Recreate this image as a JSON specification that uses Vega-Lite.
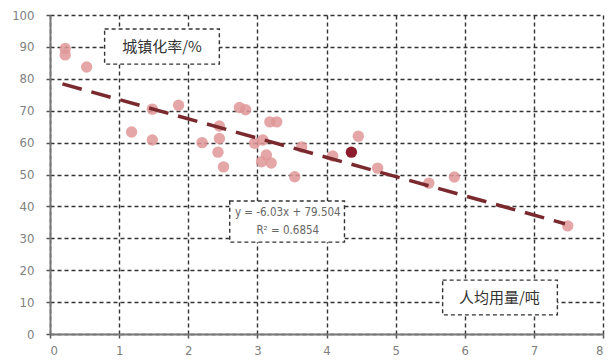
{
  "$schema": "https://vega.github.io/schema/vega-lite/v6.json",
  "width": 553,
  "height": 319,
  "autosize": {"type": "none"},
  "padding": {"left": 50, "top": 15, "right": 13, "bottom": 29},
  "background": "white",
  "config": {
    "view": {"stroke": null},
    "axis": {
      "labelFont": "DejaVu Sans Condensed, Liberation Sans",
      "labelFontSize": 13,
      "labelColor": "#808080",
      "grid": true,
      "gridColor": "#333333",
      "gridDash": [4, 3],
      "gridWidth": 1.4,
      "gridOpacity": 1,
      "domainColor": "#777777",
      "domainWidth": 2,
      "tickColor": "#555555",
      "tickSize": 4,
      "tickWidth": 1.5,
      "title": null
    }
  },
  "datasets": {
    "pts": [
      {"x": 0.22, "y": 89.5, "kind": "normal"},
      {"x": 0.22, "y": 87.5, "kind": "normal"},
      {"x": 0.53, "y": 83.7, "kind": "normal"},
      {"x": 1.18, "y": 63.3, "kind": "normal"},
      {"x": 1.48, "y": 70.5, "kind": "normal"},
      {"x": 1.48, "y": 60.8, "kind": "normal"},
      {"x": 1.86, "y": 71.7, "kind": "normal"},
      {"x": 2.2, "y": 60.0, "kind": "normal"},
      {"x": 2.45, "y": 65.2, "kind": "normal"},
      {"x": 2.45, "y": 61.3, "kind": "normal"},
      {"x": 2.43, "y": 57.0, "kind": "normal"},
      {"x": 2.51, "y": 52.4, "kind": "normal"},
      {"x": 2.74, "y": 71.0, "kind": "normal"},
      {"x": 2.83, "y": 70.3, "kind": "normal"},
      {"x": 2.96, "y": 59.8, "kind": "normal"},
      {"x": 3.08, "y": 60.8, "kind": "normal"},
      {"x": 3.06, "y": 54.0, "kind": "normal"},
      {"x": 3.13, "y": 56.1, "kind": "normal"},
      {"x": 3.2, "y": 53.6, "kind": "normal"},
      {"x": 3.18, "y": 66.5, "kind": "normal"},
      {"x": 3.28, "y": 66.5, "kind": "normal"},
      {"x": 3.54, "y": 49.3, "kind": "normal"},
      {"x": 3.64, "y": 58.6, "kind": "normal"},
      {"x": 4.09, "y": 55.8, "kind": "normal"},
      {"x": 4.46, "y": 62.0, "kind": "normal"},
      {"x": 4.74, "y": 52.0, "kind": "normal"},
      {"x": 5.48, "y": 47.3, "kind": "normal"},
      {"x": 5.85, "y": 49.2, "kind": "normal"},
      {"x": 7.49, "y": 33.9, "kind": "normal"},
      {"x": 4.36, "y": 57.0, "kind": "highlight"}
    ],
    "trend": [
      {"x": 0.18, "y": 78.42},
      {"x": 7.45, "y": 34.58}
    ],
    "boxes": [
      {"x": 0.79, "x2": 2.45, "y": 95.6, "y2": 84.6},
      {"x": 2.6, "x2": 4.26, "y": 41.7, "y2": 28.8},
      {"x": 5.68, "x2": 7.34, "y": 16.9, "y2": 6.0}
    ],
    "labels": [
      {"x": 1.62, "y": 90.0, "text": "城镇化率/%", "font": "cjk"},
      {"x": 3.44, "y": 37.9, "text": "y = -6.03x + 79.504", "font": "latin"},
      {"x": 3.44, "y": 32.4, "text": "R² = 0.6854", "font": "latin"},
      {"x": 6.5, "y": 11.4, "text": "人均用量/吨", "font": "cjk"}
    ]
  },
  "encoding": {
    "x": {
      "field": "x", "type": "quantitative",
      "scale": {"domain": [0, 8], "nice": false},
      "axis": {"values": [0, 1, 2, 3, 4, 5, 6, 7, 8], "format": "d", "labelPadding": 6}
    },
    "y": {
      "field": "y", "type": "quantitative",
      "scale": {"domain": [0, 100], "nice": false},
      "axis": {"values": [0, 10, 20, 30, 40, 50, 60, 70, 80, 90, 100], "format": "d", "labelPadding": 12}
    }
  },
  "layer": [
    {
      "data": {"name": "boxes"},
      "mark": {"type": "rect", "fill": "white", "stroke": "#333333", "strokeWidth": 1.4, "strokeDash": [4, 3]},
      "encoding": {
        "x2": {"field": "x2"},
        "y2": {"field": "y2"}
      }
    },
    {
      "data": {"name": "pts"},
      "transform": [{"filter": "datum.kind == 'normal'"}],
      "mark": {"type": "circle", "size": 130, "opacity": 0.85, "color": "#df9797"}
    },
    {
      "data": {"name": "trend"},
      "mark": {"type": "line", "color": "#7a2a2e", "strokeWidth": 3.5, "strokeDash": [20, 10]}
    },
    {
      "data": {"name": "pts"},
      "transform": [{"filter": "datum.kind == 'highlight'"}],
      "mark": {"type": "circle", "size": 130, "opacity": 1, "color": "#8c1c2c"}
    },
    {
      "data": {"name": "labels"},
      "transform": [{"filter": "datum.font == 'cjk'"}],
      "mark": {"type": "text", "font": "Noto Sans CJK SC", "fontSize": 15, "color": "#333333", "align": "center", "baseline": "middle"},
      "encoding": {"text": {"field": "text"}}
    },
    {
      "data": {"name": "labels"},
      "transform": [{"filter": "datum.font == 'latin'"}],
      "mark": {"type": "text", "font": "DejaVu Sans Condensed, Liberation Sans", "fontSize": 11.5, "color": "#666666", "align": "center", "baseline": "middle"},
      "encoding": {"text": {"field": "text"}}
    }
  ]
}
